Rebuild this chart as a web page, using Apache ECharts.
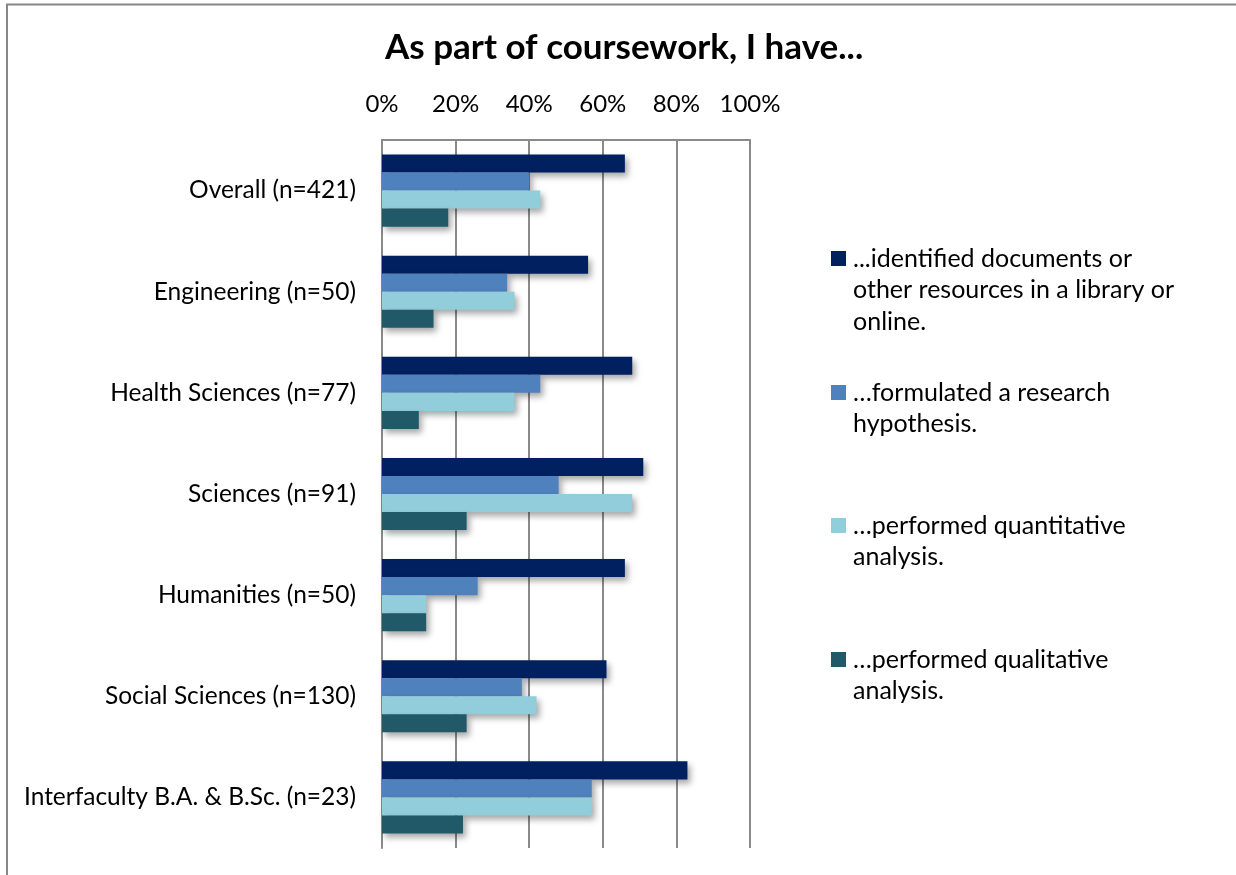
<!DOCTYPE html>
<html>
<head>
<meta charset="utf-8">
<script src="https://cdn.jsdelivr.net/npm/echarts@6/dist/echarts.min.js"></script>
<style>
  html, body { margin: 0; padding: 0; background: #fff; }
  #chart { width: 1236px; height: 875px; }
</style>
</head>
<body>
<div id="chart"></div>
<script>
// Faculty groups, listed top to bottom
const categories = [
  'Overall (n=421)',
  'Engineering (n=50)',
  'Health Sciences (n=77)',
  'Sciences (n=91)',
  'Humanities (n=50)',
  'Social Sciences (n=130)',
  'Interfaculty B.A. & B.Sc. (n=23)'
];

// Share of respondents (%) for each activity
const identifiedDocs = [66, 56, 68, 71, 66, 61, 83];
const formulatedHypothesis = [40, 34, 43, 48, 26, 38, 57];
const quantitativeAnalysis = [43, 36, 36, 68, 12, 42, 57];
const qualitativeAnalysis = [18, 14, 10, 23, 12, 23, 22];

const seriesNames = [
  '...identified documents or\nother resources in a library or\nonline.',
  '\u2026formulated a research\nhypothesis.',
  '\u2026performed quantitative\nanalysis.',
  '\u2026performed qualitative\nanalysis.'
];
const seriesValues = [identifiedDocs, formulatedHypothesis, quantitativeAnalysis, qualitativeAnalysis];
const seriesColors = ['#002060', '#4F81BD', '#92CDDC', '#215968'];

const FONT = 'Lato, "Open Sans", sans-serif';
const LINE_H = 31.5;
const ICON = 15;

// One legend block per series so each entry sits at its own slot.
// Blank lines are prepended so the (vertically centred) text puts its
// first real line level with the swatch.
const legendIconTops = [251, 385, 518, 652];
const legends = seriesNames.map((name, i) => {
  const lines = name.split('\n').length;
  const totalLines = 2 * lines - 1;
  const boxH = totalLines * LINE_H;
  return {
    data: [name],
    orient: 'vertical',
    left: 831,
    top: legendIconTops[i] - (boxH / 2 - ICON / 2),
    padding: 0,
    itemWidth: ICON,
    itemHeight: ICON,
    icon: 'rect',
    selectedMode: false,
    formatter: n => '\n'.repeat(n.split('\n').length - 1) + n,
    textStyle: {
      fontFamily: FONT,
      fontSize: 25,
      color: '#000',
      lineHeight: LINE_H,
      padding: [0, 0, 0, 2]
    }
  };
});

const chart = echarts.init(document.getElementById('chart'), null, { renderer: 'canvas' });

chart.setOption({
  backgroundColor: '#fff',
  animation: false,
  title: {
    text: 'As part of coursework, I have...',
    left: 385,
    top: 30,
    padding: 0,
    textStyle: { fontFamily: FONT, fontSize: 35, fontWeight: 'bold', color: '#000' }
  },
  graphic: [{
    type: 'rect',
    shape: { x: 7, y: 4.5, width: 1400, height: 1000 },
    style: { fill: 'none', stroke: '#878787', lineWidth: 2 },
    silent: true
  }],
  legend: legends,
  grid: { left: 382, right: 486, top: 140, bottom: 27, containLabel: false },
  xAxis: {
    type: 'value',
    position: 'top',
    min: 0,
    max: 100,
    interval: 20,
    axisLine: { show: true, lineStyle: { color: '#8a8a8a', width: 2 } },
    axisTick: { show: false },
    axisLabel: {
      formatter: '{value}%',
      fontFamily: FONT,
      fontSize: 24,
      color: '#000',
      margin: 24
    },
    splitLine: { show: true, lineStyle: { color: '#8a8a8a', width: 2 } }
  },
  yAxis: {
    type: 'category',
    inverse: true,
    data: categories,
    axisLine: { show: true, lineStyle: { color: '#8a8a8a', width: 2 } },
    axisTick: { show: false },
    axisLabel: {
      fontFamily: FONT,
      fontSize: 24.5,
      color: '#000',
      margin: 26
    }
  },
  series: seriesNames.map((name, i) => ({
    name: name,
    type: 'bar',
    data: seriesValues[i],
    barGap: '0%',
    barCategoryGap: '28.7%',
    itemStyle: {
      color: seriesColors[i],
      shadowColor: 'rgba(0,0,0,0.35)',
      shadowBlur: 6,
      shadowOffsetX: 3,
      shadowOffsetY: 4
    }
  }))
});
</script>
</body>
</html>
